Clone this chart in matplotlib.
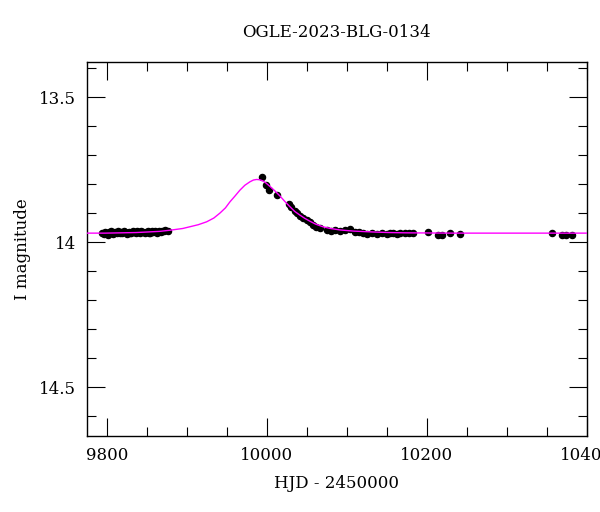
import matplotlib
matplotlib.use('Agg')
import matplotlib.pyplot as plt
from matplotlib.ticker import MultipleLocator

plt.rcParams['font.family'] = ['DejaVu Serif']

# dane fotometryczne OGLE (HJD - 2450000, mag I, blad)
hjd = [9794, 9796, 9797, 9799, 9801, 9803, 9805, 9807, 9808, 9810,
       9812, 9814, 9816, 9818, 9819, 9821, 9823, 9825, 9827, 9829,
       9830, 9832, 9834, 9836, 9838, 9840, 9841, 9843, 9845, 9847,
       9849, 9851, 9852, 9854, 9856, 9858, 9860, 9862, 9863, 9865,
       9867, 9869, 9871, 9873, 9876,
       9993.8, 9999.4, 10003.1, 10012.1, 10027.9, 10030.6, 10035, 10038.1,
       10041.3, 10045, 10049.6, 10053.8, 10057.5, 10061.3, 10066.3,
       10075, 10080, 10085, 10091.3, 10097.5, 10103.8, 10110,
       10115, 10120, 10125, 10130.9, 10137.1, 10143.4, 10149.6, 10153.8,
       10157.5, 10162.5, 10166.3, 10172.5, 10177.5, 10182.5, 10201.3,
       10213.8, 10218.8, 10228.8, 10241.3,
       10357.1, 10368.4, 10373.8, 10380.9]
mag = [13.968, 13.972, 13.965, 13.970, 13.974, 13.966, 13.963, 13.969, 13.972, 13.964,
       13.967, 13.962, 13.970, 13.965, 13.968, 13.963, 13.966, 13.971, 13.964, 13.967,
       13.969, 13.962, 13.966, 13.970, 13.963, 13.965, 13.968, 13.961, 13.966, 13.969,
       13.964, 13.962, 13.967, 13.970, 13.963, 13.965, 13.961, 13.966, 13.968, 13.962,
       13.964, 13.960, 13.963, 13.959, 13.961,
       13.777, 13.803, 13.821, 13.838, 13.869, 13.879, 13.893, 13.900,
       13.910, 13.917, 13.924, 13.931, 13.941, 13.947, 13.953,
       13.957, 13.962, 13.959, 13.961, 13.959, 13.956, 13.964,
       13.966, 13.968, 13.971, 13.968, 13.972, 13.968, 13.972, 13.969,
       13.970, 13.972, 13.968, 13.970, 13.968, 13.968, 13.964,
       13.976, 13.976, 13.970, 13.972,
       13.970, 13.975, 13.975, 13.974]
err = [0.004] * len(hjd)

# model (krzywa)
model_t = [9775, 9797.5, 9836.4, 9865.5, 9878.8, 9894.7, 9903.7, 9914.1, 9924.6, 9933.6,
           9941.2, 9948.1, 9953.8, 9959.8, 9966.2, 9972.4, 9978.8, 9983.1, 9987.1,
           9990.9, 9995, 9998.7, 10003.8, 10009.4, 10016.3, 10022.1, 10028.8,
           10034.7, 10041.3, 10047.3, 10053.8, 10060.9, 10070, 10079.4, 10091.3,
           10108.5, 10132.5, 10152.3, 10174.6, 10234.9, 10400]
model_m = [13.969, 13.969, 13.967, 13.963, 13.959, 13.953, 13.947, 13.940, 13.930, 13.917,
           13.900, 13.882, 13.861, 13.842, 13.821, 13.804, 13.792, 13.786, 13.784,
           13.785, 13.789, 13.796, 13.808, 13.822, 13.841, 13.859, 13.878,
           13.894, 13.907, 13.918, 13.928, 13.938, 13.947, 13.953, 13.958,
           13.962, 13.965, 13.967, 13.968, 13.969, 13.969]

fig = plt.figure(figsize=(6, 5.12), dpi=100)
ax = fig.add_axes([0.145, 0.148, 0.833, 0.731])

ax.errorbar(hjd, mag, yerr=err, fmt='o', color='black', ms=4.4,
            elinewidth=0.8, capsize=0, zorder=3)
ax.plot(model_t, model_m, color='#ff00ff', lw=1.0, zorder=4)

ax.set_xlim(9775, 10400)
ax.set_ylim(14.669, 13.379)

ax.xaxis.set_major_locator(MultipleLocator(200))
ax.xaxis.set_minor_locator(MultipleLocator(50))
ax.yaxis.set_major_locator(MultipleLocator(0.5))
ax.yaxis.set_minor_locator(MultipleLocator(0.1))
ax.set_yticks([13.5, 14, 14.5])
ax.set_yticklabels(['13.5', '14', '14.5'])

ax.tick_params(which='both', direction='in', top=True, right=True,
               labelsize=12, pad=8, width=0.8)
ax.tick_params(which='major', length=13)
ax.tick_params(which='minor', length=6.5)
for s in ax.spines.values():
    s.set_linewidth(1.0)

ax.set_title('OGLE-2023-BLG-0134', fontsize=12, pad=18)
ax.set_xlabel('HJD - 2450000', fontsize=12, labelpad=8)
ax.set_ylabel('I magnitude', fontsize=12, labelpad=6)

fig.savefig('out.png', dpi=100)
